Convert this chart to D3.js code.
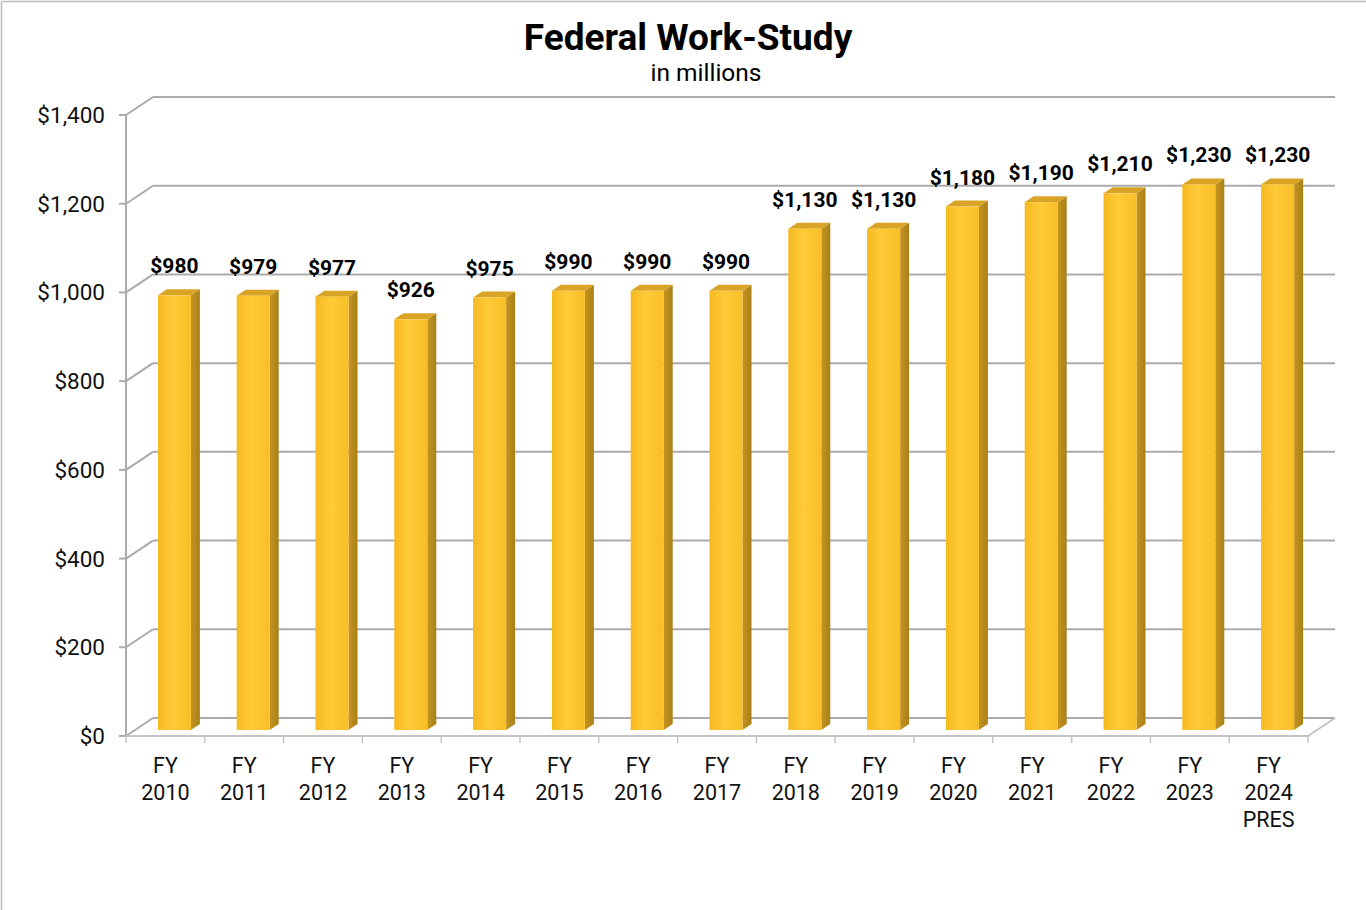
<!DOCTYPE html>
<html><head><meta charset="utf-8">
<script src="https://cdn.jsdelivr.net/npm/d3@7"></script>
<style>body{margin:0;background:#fff;}svg{display:block;font-family:Roboto,"Noto Sans",sans-serif;}</style>
</head><body><svg id="c" width="1366" height="910"></svg>
<script>
const categories = [["FY","2010"],["FY","2011"],["FY","2012"],["FY","2013"],["FY","2014"],["FY","2015"],["FY","2016"],["FY","2017"],["FY","2018"],["FY","2019"],["FY","2020"],["FY","2021"],["FY","2022"],["FY","2023"],["FY","2024","PRES"]];
const values = [980,979,977,926,975,990,990,990,1130,1130,1180,1190,1210,1230,1230];
const labels = ["$980","$979","$977","$926","$975","$990","$990","$990","$1,130","$1,130","$1,180","$1,190","$1,210","$1,230","$1,230"];
const yTicks = [0,200,400,600,800,1000,1200,1400];

const svg = d3.select("#c");
const L = 126, R = 1308, T = 115, B = 736;
const DX = 27, DY = -18;
const x = d3.scaleBand().domain(d3.range(categories.length)).range([L,R]).paddingInner(0).paddingOuter(0);
const y = d3.scaleLinear().domain([0,1400]).range([B,T]);

svg.append("path").attr("d","M1.5,910 V1.5 H1366").attr("fill","none").attr("stroke","#bdbdbd").attr("stroke-width",1.5);

const defs = svg.append("defs");
const g1 = defs.append("linearGradient").attr("id","front").attr("x1","0").attr("x2","1").attr("y1","0").attr("y2","0");
g1.append("stop").attr("offset","0").attr("stop-color","#F6B920");
g1.append("stop").attr("offset","0.45").attr("stop-color","#FFCB38");
g1.append("stop").attr("offset","1").attr("stop-color","#F8BE26");
const g2 = defs.append("linearGradient").attr("id","side").attr("x1","0").attr("x2","1").attr("y1","0").attr("y2","0");
g2.append("stop").attr("offset","0").attr("stop-color","#C49420");
g2.append("stop").attr("offset","1").attr("stop-color","#A98018");

svg.append("text").attr("x",688).attr("y",50).attr("text-anchor","middle").attr("font-size",37).attr("font-weight","bold").attr("fill","#000").text("Federal Work-Study");
svg.append("text").attr("x",706).attr("y",81).attr("text-anchor","middle").attr("font-size",24.5).attr("fill","#000").text("in millions");

const gridC = "#ababab";
yTicks.forEach(t => {
  const yy = y(t);
  svg.append("line").attr("x1",L+DX).attr("x2",R+DX).attr("y1",yy+DY).attr("y2",yy+DY).attr("stroke",gridC).attr("stroke-width",2);
  svg.append("line").attr("x1",L).attr("x2",L+DX).attr("y1",yy).attr("y2",yy+DY).attr("stroke",gridC).attr("stroke-width",2);
  svg.append("line").attr("x1",L-7).attr("x2",L).attr("y1",yy).attr("y2",yy).attr("stroke",gridC).attr("stroke-width",2);
  svg.append("text").attr("x",105).attr("y",yy+8).attr("text-anchor","end").attr("font-size",22.5).attr("fill","#111")
    .text("$"+d3.format(",")(t));
});
svg.append("line").attr("x1",L).attr("x2",L).attr("y1",T).attr("y2",B+1).attr("stroke",gridC).attr("stroke-width",2);
svg.append("line").attr("x1",L).attr("x2",R).attr("y1",B).attr("y2",B).attr("stroke","#c4c4c4").attr("stroke-width",2);
svg.append("line").attr("x1",R).attr("x2",R+DX).attr("y1",B).attr("y2",B+DY).attr("stroke","#c4c4c4").attr("stroke-width",2);
d3.range(categories.length+1).forEach(i => {
  const xx = L + i*x.bandwidth();
  svg.append("line").attr("x1",xx).attr("x2",xx).attr("y1",B).attr("y2",B+7).attr("stroke","#c4c4c4").attr("stroke-width",1.5);
});

const fw = 33, bx = DX/3, by = DY/3;
values.forEach((v,i) => {
  const cx = x(i) + x.bandwidth()/2 + bx;
  const x0 = cx - fw/2, x1 = cx + fw/2;
  const y0 = B + by, yt = y(v) + by;
  const g = svg.append("g");
  g.append("path").attr("d",`M${x1},${y0} L${x1+bx},${y0+by} L${x1+bx},${yt+by} L${x1},${yt} Z`).attr("fill","url(#side)");
  g.append("path").attr("d",`M${x0},${yt} L${x1},${yt} L${x1+bx},${yt+by} L${x0+bx},${yt+by} Z`).attr("fill","#D9A426");
  g.append("rect").attr("x",x0).attr("y",yt).attr("width",fw).attr("height",y0-yt).attr("fill","url(#front)");
  svg.append("text").attr("x",cx).attr("y",yt-22).attr("text-anchor","middle").attr("font-size",21).attr("font-weight","bold").attr("fill","#000").text(labels[i]);
});

categories.forEach((c,i) => {
  const cx = x(i) + x.bandwidth()/2;
  c.forEach((s,j) => {
    svg.append("text").attr("x",cx).attr("y",773 + j*27).attr("text-anchor","middle").attr("font-size",21.5).attr("fill","#111").text(s);
  });
});
</script></body></html>
